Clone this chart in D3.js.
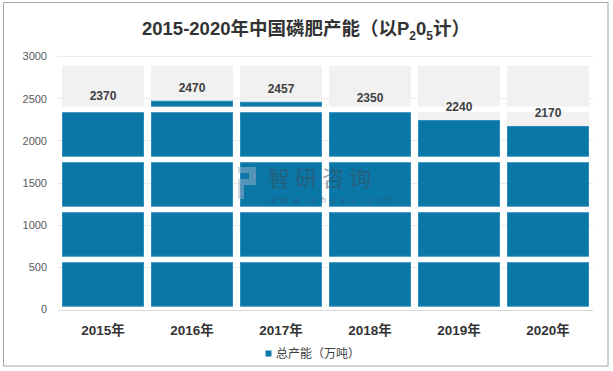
<!DOCTYPE html>
<html><head><meta charset="utf-8">
<script src="https://cdn.jsdelivr.net/npm/d3@7"></script>
<style>
html,body{margin:0;padding:0;background:#fff;}
svg{display:block;}
</style>
</head><body>
<div id="chart"></div>
<script>
const categories = ["2015年","2016年","2017年","2018年","2019年","2020年"];
const capacity = [2370, 2470, 2457, 2350, 2240, 2170];
const yTicks = [0, 500, 1000, 1500, 2000, 2500, 3000];
const seriesName = "总产能（万吨）";

const W = 613, H = 371;
const svg = d3.select("#chart").append("svg").attr("width", W).attr("height", H);

// outer frame
svg.append("rect").attr("x", 3.5).attr("y", 2.5).attr("width", 604.5).attr("height", 363.5)
  .attr("fill", "#fff").attr("stroke", "#a6a6a6").attr("stroke-width", 1);

// title
const title = svg.append("text").attr("x", 306).attr("y", 35).attr("text-anchor", "middle")
  .attr("font-family", "'Liberation Sans','Noto Sans CJK SC',sans-serif").attr("font-size", 18.5)
  .attr("font-weight", "bold").attr("fill", "#333");
title.append("tspan").text("2015-2020年中国磷肥产能（以P");
title.append("tspan").attr("font-size", 12).attr("dy", 5).text("2");
title.append("tspan").attr("dy", -5).text("0");
title.append("tspan").attr("font-size", 12).attr("dy", 5).text("5");
title.append("tspan").attr("dy", -5).text("计）");

const x = d3.scaleBand().domain(categories).range([58.5, 592.5]).paddingInner(0.0787).paddingOuter(0.0393);
const y = d3.scaleLinear().domain([0, 3000]).range([309, 56]);

// gridlines
svg.append("g").selectAll("line").data(yTicks.filter(d => d > 0)).join("line")
  .attr("x1", 57).attr("x2", 593).attr("y1", d => Math.round(y(d)) + 0.5).attr("y2", d => Math.round(y(d)) + 0.5)
  .attr("stroke", "#ebebeb").attr("stroke-width", 1);

// y axis labels
const yAxis = d3.axisLeft(y).tickValues(yTicks).tickFormat(d3.format("d")).tickSize(0).tickPadding(0);
svg.append("g").attr("transform", "translate(47,0)").call(yAxis)
  .call(g => g.select(".domain").remove())
  .call(g => g.selectAll("text").attr("font-family", "'Liberation Sans',sans-serif")
    .attr("font-size", 11).attr("fill", "#595959").attr("dy", "0.35em"));

// bars drawn as stacked tiles (Excel picture-stack look)
const period = 50, block = 44.5;
const base = y(0) - 2.3;
const grayTop = y(3000) + 9.7;
function tiles(top) {
  const out = [];
  for (let k = 0; ; k++) {
    const b = base - k * period;
    const t = b - block;
    if (b <= top) break;
    out.push({ y0: Math.max(t, top), y1: b });
  }
  return out;
}
const barG = svg.append("g");
categories.forEach((c, i) => {
  const bx = x(c), bw = x.bandwidth();
  const top = y(capacity[i]);
  tiles(grayTop).forEach(s => {
    const y0 = s.y0, y1 = Math.min(s.y1, top);
    if (y1 > y0) barG.append("rect").attr("x", bx).attr("y", y0).attr("width", bw).attr("height", y1 - y0).attr("fill", "#f1f1f1");
  });
  tiles(top).forEach(s => {
    barG.append("rect").attr("x", bx + 0.5).attr("y", s.y0 + 0.5).attr("width", bw - 1).attr("height", s.y1 - s.y0 - 1)
      .attr("fill", "#0b77a6").attr("stroke", "#2b8dbb").attr("stroke-width", 1);
  });
});

// x axis line
svg.append("line").attr("x1", 58.5).attr("x2", 593).attr("y1", 310.5).attr("y2", 310.5)
  .attr("stroke", "#d9d9d9").attr("stroke-width", 1);

// x axis labels
const xAxis = d3.axisBottom(x).tickSize(0).tickPadding(0);
svg.append("g").attr("transform", "translate(0,335)").call(xAxis)
  .call(g => g.select(".domain").remove())
  .call(g => g.selectAll("text").attr("dy", 0).attr("font-family", "'Liberation Sans','Noto Sans CJK SC',sans-serif")
    .attr("font-size", 13.5).attr("font-weight", "bold").attr("fill", "#333"));

// data labels
svg.append("g").selectAll("text").data(capacity).join("text")
  .attr("x", (d, i) => x(categories[i]) + x.bandwidth() / 2)
  .attr("y", d => y(d) - 9)
  .attr("text-anchor", "middle").attr("font-family", "'Liberation Sans',sans-serif")
  .attr("font-size", 12).attr("font-weight", "bold").attr("fill", "#404040")
  .text(d => d);

// watermark
const wm = svg.append("g").attr("opacity", 0.5);
wm.append("rect").attr("x", 238).attr("y", 167).attr("width", 17).attr("height", 6).attr("fill", "#9fb2cc");
wm.append("rect").attr("x", 249).attr("y", 167).attr("width", 7).attr("height", 18).attr("fill", "#9fb2cc");
wm.append("rect").attr("x", 238).attr("y", 179).attr("width", 17).attr("height", 6).attr("fill", "#9fb2cc");
wm.append("rect").attr("x", 238).attr("y", 179).attr("width", 6).attr("height", 20).attr("fill", "#9fb2cc");
wm.append("text").attr("x", 268).attr("y", 186).attr("font-family", "'Noto Sans CJK SC',sans-serif")
  .attr("font-size", 22).attr("letter-spacing", 5).attr("fill", "#3e4a57").text("智研咨询");
wm.append("text").attr("x", 270).attr("y", 203).attr("font-family", "'Liberation Sans',sans-serif")
  .attr("font-size", 9).attr("letter-spacing", 5).attr("fill", "#3e4a57").text("www.chyxx.com");

// legend
svg.append("rect").attr("x", 265.5).attr("y", 350.5).attr("width", 6).attr("height", 6).attr("fill", "#0b77a6");
svg.append("text").attr("x", 276).attr("y", 357.5).attr("font-family", "'Noto Sans CJK SC',sans-serif")
  .attr("font-size", 12).attr("fill", "#404040").text(seriesName);
</script>
</body></html>
